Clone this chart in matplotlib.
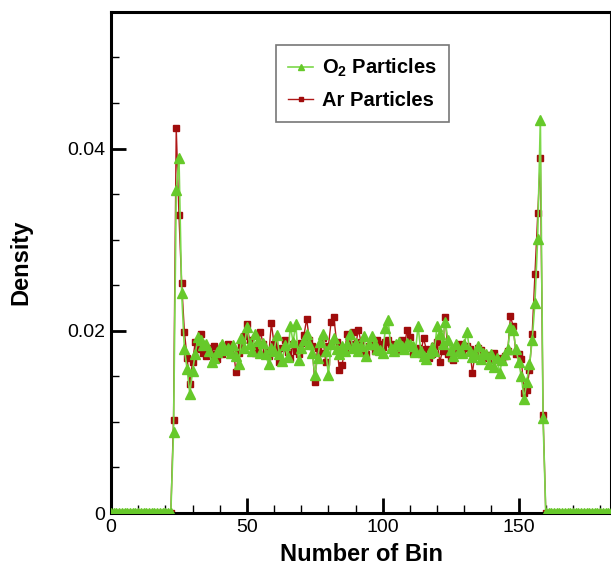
import matplotlib
matplotlib.use("Agg")
import matplotlib.pyplot as plt
import numpy as np
from matplotlib.ticker import MultipleLocator

plt.rcParams['font.family'] = ['Liberation Sans', 'DejaVu Sans']
plt.rcParams['mathtext.fontset'] = 'custom'
plt.rcParams['mathtext.rm'] = 'Liberation Sans'
plt.rcParams['mathtext.bf'] = 'Liberation Sans:bold'

# Bin 23 .. 159 values (zeros elsewhere)
ar_mid = [0.0102, 0.0423, 0.0327, 0.0252, 0.0199, 0.0170, 0.0142, 0.0166,
          0.0188, 0.0180, 0.0197, 0.0176, 0.0172, 0.0181, 0.0175, 0.0183,
          0.0169, 0.0178, 0.0174, 0.0180, 0.0185, 0.0183, 0.0179, 0.0155,
          0.0176, 0.0184, 0.0194, 0.0207, 0.0190, 0.0183, 0.0176, 0.0180,
          0.0199, 0.0185, 0.0178, 0.0172, 0.0208, 0.0186, 0.0179, 0.0166,
          0.0181, 0.0190, 0.0177, 0.0170, 0.0185, 0.0178, 0.0174, 0.0187,
          0.0195, 0.0213, 0.0190, 0.0183, 0.0144, 0.0181, 0.0176, 0.0192,
          0.0166, 0.0183, 0.0210, 0.0215, 0.0188, 0.0157, 0.0162, 0.0180,
          0.0197, 0.0185, 0.0199, 0.0183, 0.0201, 0.0188, 0.0179, 0.0174,
          0.0183, 0.0187, 0.0178, 0.0190, 0.0185, 0.0182, 0.0188, 0.0190,
          0.0186, 0.0183, 0.0179, 0.0185, 0.0190, 0.0185, 0.0201, 0.0193,
          0.0176, 0.0178, 0.0181, 0.0175, 0.0192, 0.0180, 0.0170, 0.0174,
          0.0183, 0.0188, 0.0166, 0.0178, 0.0215, 0.0175, 0.0170, 0.0168,
          0.0180, 0.0185, 0.0178, 0.0181, 0.0183, 0.0180, 0.0154, 0.0176,
          0.0181, 0.0179, 0.0175, 0.0170, 0.0173, 0.0168, 0.0176, 0.0168,
          0.0170, 0.0167, 0.0172, 0.0178, 0.0216, 0.0205, 0.0175, 0.0174,
          0.0169, 0.0132, 0.0135, 0.0157, 0.0197, 0.0262, 0.0329, 0.0390,
          0.0108]
o2_mid = [0.0089, 0.0354, 0.0390, 0.0242, 0.0180, 0.0158, 0.0131, 0.0156,
          0.0175, 0.0193, 0.0190, 0.0184, 0.0185, 0.0178, 0.0166, 0.0170,
          0.0177, 0.0182, 0.0186, 0.0179, 0.0181, 0.0176, 0.0184, 0.0172,
          0.0163, 0.0192, 0.0181, 0.0204, 0.0186, 0.0178, 0.0196, 0.0189,
          0.0176, 0.0187, 0.0174, 0.0163, 0.0181, 0.0178, 0.0195, 0.0174,
          0.0167, 0.0184, 0.0171, 0.0205, 0.0188, 0.0207, 0.0168, 0.0181,
          0.0190, 0.0197, 0.0185, 0.0176, 0.0152, 0.0170, 0.0188, 0.0196,
          0.0178, 0.0152, 0.0185, 0.0192, 0.0180, 0.0175, 0.0183, 0.0178,
          0.0186, 0.0197, 0.0181, 0.0187, 0.0178, 0.0183, 0.0194, 0.0172,
          0.0186, 0.0194, 0.0185, 0.0180, 0.0179, 0.0176, 0.0203, 0.0212,
          0.0181, 0.0178, 0.0185, 0.0188, 0.0183, 0.0180, 0.0187, 0.0186,
          0.0183, 0.0177, 0.0205, 0.0178, 0.0172, 0.0169, 0.0176, 0.0182,
          0.0178, 0.0205, 0.0197, 0.0185, 0.0210, 0.0190, 0.0179, 0.0172,
          0.0186, 0.0178, 0.0176, 0.0185, 0.0199, 0.0178, 0.0171, 0.0174,
          0.0183, 0.0169, 0.0176, 0.0174, 0.0163, 0.0175, 0.0160, 0.0170,
          0.0154, 0.0168, 0.0175, 0.0180, 0.0204, 0.0201, 0.0180, 0.0166,
          0.0150, 0.0125, 0.0144, 0.0163, 0.0190, 0.0231, 0.0301, 0.0431,
          0.0104]

ar_density = [0.0] * 23 + ar_mid + [0.0] * 25
o2_density = [0.0] * 23 + o2_mid + [0.0] * 25
bins = np.arange(len(ar_density))

fig = plt.figure(figsize=(6.11, 5.65), dpi=100)
ax = fig.add_axes([0.1817, 0.092, 0.8183, 0.887])

ax.plot(bins, ar_density, color='#B01818', lw=1.0, marker='s', ms=5,
        mfc='#A00C0C', mec='#A00C0C', label='Ar Particles', zorder=2)
ax.plot(bins, o2_density, color='#7CD84A', lw=1.2, marker='^', ms=6.5,
        mfc='#66C92A', mec='#66C92A', label=r'O$_\mathbf{2}$ Particles', zorder=3)

ax.set_xlim(0, 184)
ax.set_ylim(0, 0.055)
ax.xaxis.set_major_locator(MultipleLocator(50))
ax.xaxis.set_minor_locator(MultipleLocator(10))
ax.yaxis.set_major_locator(MultipleLocator(0.02))
ax.yaxis.set_minor_locator(MultipleLocator(0.005))
ax.set_xticks([0, 50, 100, 150])
ax.set_yticks([0, 0.02, 0.04])
ax.set_yticklabels(['0', '0.02', '0.04'])
ax.tick_params(which='major', direction='in', length=11, width=2, labelsize=14,
               top=False, right=False, pad=4)
ax.tick_params(which='minor', direction='in', length=6, width=1,
               top=False, right=False)
for s in ax.spines.values():
    s.set_linewidth(2.2)

ax.set_xlabel('Number of Bin', fontsize=17, fontweight='bold', labelpad=5)
ax.set_ylabel('Density', fontsize=17, fontweight='bold', labelpad=25)

handles, labels = ax.get_legend_handles_labels()
leg = ax.legend(handles[::-1], labels[::-1], loc='upper left',
                bbox_to_anchor=(0.33, 0.934), borderaxespad=0, frameon=True,
                fancybox=False, edgecolor='#555555',
                prop={'weight': 'bold', 'size': 14.5},
                handlelength=1.25, borderpad=0.6, labelspacing=0.6,
                handletextpad=0.45, markerscale=0.65)
leg.get_frame().set_linewidth(1.2)

fig.savefig('out.png', dpi=100)
